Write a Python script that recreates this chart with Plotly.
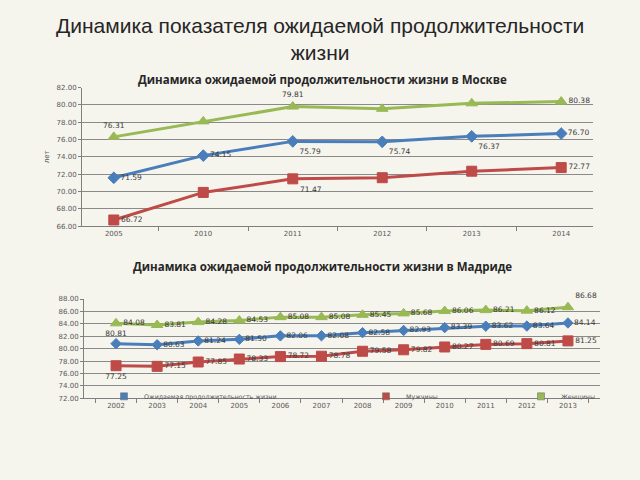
import plotly.graph_objects as go

# ---- Data ----
moscow_years = ["2005", "2010", "2011", "2012", "2013", "2014"]
moscow_total = [71.59, 74.15, 75.79, 75.74, 76.37, 76.70]
moscow_men = [66.72, 69.90, 71.47, 71.60, 72.35, 72.77]
moscow_women = [76.31, 78.10, 79.81, 79.55, 80.18, 80.38]

madrid_years = ["2002", "2003", "2004", "2005", "2006", "2007",
                "2008", "2009", "2010", "2011", "2012", "2013"]
madrid_total = [80.81, 80.63, 81.24, 81.50, 82.06, 82.08, 82.58, 82.93, 83.39, 83.62, 83.64, 84.14]
madrid_men = [77.25, 77.15, 77.85, 78.33, 78.72, 78.78, 79.58, 79.82, 80.27, 80.69, 80.81, 81.25]
madrid_women = [84.08, 83.81, 84.28, 84.53, 85.08, 85.08, 85.45, 85.68, 86.06, 86.21, 86.12, 86.68]

series_names = ["Ожидаемая продолжительность жизни", "Мужчины", "Женщины"]

main_title = "Динамика показателя ожидаемой продолжительности<br>жизни"
moscow_title = "Динамика ожидаемой продолжительности жизни в Москве"
madrid_title = "Динамика ожидаемой продолжительности жизни в Мадриде"

BLUE = "#4a7ebb"
RED = "#be4b48"
GREEN = "#98b954"
LBL = "#3a3a3a"
TICK = "#595959"
GRID = "#8a8a8a"

def fmt(v):
    return f"{v:.2f}"

fig = go.Figure()

# ---- Moscow ----
m_pos_total = ["middle right", "middle right", "bottom right", "bottom right", "bottom right", "middle right"]
m_pos_men = ["middle right", "middle right", "bottom right", "middle right", "middle right", "middle right"]
m_pos_women = ["top center", "top center", "top center", "top center", "top center", "middle right"]
m_show_total = [True, True, True, True, True, True]
m_show_men = [True, False, True, False, False, True]
m_show_women = [True, False, True, False, False, True]

def add(x, y, name, color, symbol, size, pos, show, xa, ya):
    fig.add_trace(go.Scatter(
        x=x, y=y, name=name, mode="lines+markers+text",
        line=dict(color=color, width=3),
        marker=dict(symbol=symbol, size=size, color=color,
                    line=dict(color=color, width=1)),
        text=[fmt(v) if s else "" for v, s in zip(y, show)],
        textposition=pos,
        textfont=dict(family="DejaVu Sans", size=7.5, color=LBL),
        xaxis=xa, yaxis=ya, showlegend=False,
        cliponaxis=False,
    ))

add(moscow_years, moscow_women, series_names[2], GREEN, "triangle-up", 10,
    m_pos_women, m_show_women, "x", "y")
add(moscow_years, moscow_total, series_names[0], BLUE, "diamond", 9,
    m_pos_total, m_show_total, "x", "y")
add(moscow_years, moscow_men, series_names[1], RED, "square", 10,
    m_pos_men, m_show_men, "x", "y")

# ---- Madrid ----
n = len(madrid_years)
d_pos_total = ["top center"] + ["middle right"] * (n - 1)
d_pos_men = ["bottom center"] + ["middle right"] * (n - 1)
d_pos_women = ["middle right"] * (n - 1) + ["top right"]
all_show = [True] * n

add(madrid_years, madrid_total, series_names[0], BLUE, "diamond", 8,
    d_pos_total, all_show, "x2", "y2")
add(madrid_years, madrid_men, series_names[1], RED, "square", 10,
    d_pos_men, all_show, "x2", "y2")
add(madrid_years, madrid_women, series_names[2], GREEN, "triangle-up", 10,
    d_pos_women, all_show, "x2", "y2")

# legend keys (Excel-style small colour boxes)
for name, color, leg in zip(series_names, [BLUE, RED, GREEN], ["legend", "legend2", "legend3"]):
    fig.add_trace(go.Scatter(
        x=[None], y=[None], name=name, mode="markers",
        marker=dict(symbol="square", size=7, color=color, line=dict(color="#666", width=0.5)),
        xaxis="x2", yaxis="y2", legend=leg, showlegend=True,
    ))

W, H = 640, 480
def px(v):
    return v / W
def py(v):
    return 1 - v / H

axis_common = dict(
    showline=True, linecolor="#7f7f7f", linewidth=1,
    ticks="outside", ticklen=4, tickcolor="#7f7f7f",
    tickfont=dict(family="DejaVu Sans", size=7, color=TICK),
    showgrid=False, zeroline=False, fixedrange=True,
)
yaxis_common = dict(
    showline=True, linecolor="#7f7f7f", linewidth=1,
    ticks="outside", ticklen=3, tickcolor="#7f7f7f",
    tickfont=dict(family="DejaVu Sans", size=7, color=TICK),
    showgrid=True, gridcolor=GRID, gridwidth=1,
    zeroline=False, dtick=2, tickformat=".2f", fixedrange=True,
)

legend_common = dict(
    orientation="h", bgcolor="rgba(0,0,0,0)",
    font=dict(family="DejaVu Sans", size=6.3, color=TICK),
    xanchor="left", yanchor="middle", itemwidth=30,
)

fig.update_layout(
    width=W, height=H,
    margin=dict(l=0, r=0, t=0, b=0),
    paper_bgcolor="#f5f4ed", plot_bgcolor="rgba(0,0,0,0)",
    xaxis=dict(domain=[px(82), px(593)], anchor="y", type="category",
               tickson="boundaries", **axis_common),
    yaxis=dict(domain=[py(226), py(85)], anchor="x", range=[66, 82],
               title=dict(text="лет", font=dict(family="DejaVu Sans", size=7, color=TICK), standoff=6),
               **yaxis_common),
    xaxis2=dict(domain=[px(84), px(600)], anchor="y2", type="category",
                tickson="boundaries", **axis_common),
    yaxis2=dict(domain=[py(401), py(300)], anchor="x2", range=[72, 88],
                **yaxis_common),
    legend=dict(x=px(104), y=py(399), **legend_common),
    legend2=dict(x=px(366), y=py(399), **legend_common),
    legend3=dict(x=px(521), y=py(399), **legend_common),
    annotations=[
        dict(text=main_title, x=0.5, y=py(36), xref="paper", yref="paper",
             showarrow=False, xanchor="center", yanchor="middle",
             font=dict(family="Liberation Sans", size=21, color="#262626")),
        dict(text="<b>" + moscow_title + "</b>", x=px(322), y=py(77), xref="paper", yref="paper",
             showarrow=False, xanchor="center", yanchor="middle",
             font=dict(family="Open Sans", size=11.5, color="#262626")),
        dict(text="<b>" + madrid_title + "</b>", x=px(322), y=py(267), xref="paper", yref="paper",
             showarrow=False, xanchor="center", yanchor="middle",
             font=dict(family="Open Sans", size=11.5, color="#262626")),
    ],
)

fig.write_html("out.html")
